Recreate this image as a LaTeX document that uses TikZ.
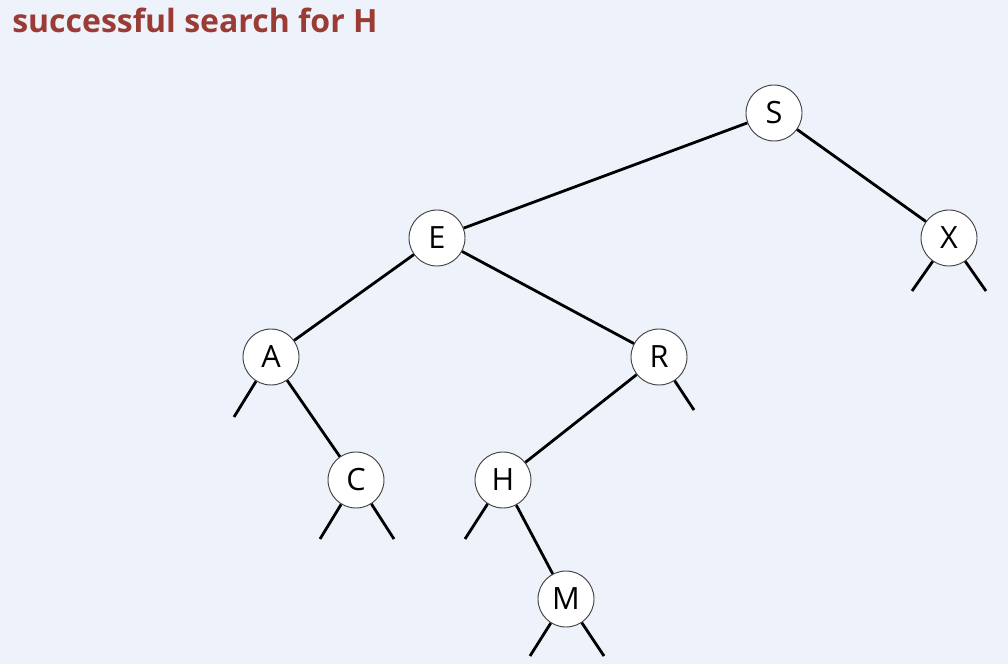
\documentclass[tikz,border=0pt]{standalone}
\usepackage{fontspec}
\setmainfont{Open Sans}
\begin{document}
\begin{tikzpicture}[x=0.75pt,y=-0.75pt,
  bstnode/.style={circle,draw=black!75,line width=0.7pt,fill=white,minimum size=42pt,inner sep=0pt,font=\fontsize{23}{27}\selectfont},
  link/.style={line width=2.1pt,black},
  nulllink/.style={line width=2.1pt,black}]
  \definecolor{bgblue}{HTML}{EEF3FB}
  \definecolor{titlered}{HTML}{9B3B35}
  \fill[bgblue] (0,0) rectangle (1008,664);
  \useasboundingbox (0,0) rectangle (1008,664);

  \node[anchor=base west,inner sep=0pt,text=titlered,font=\fontsize{24}{28}\selectfont\bfseries] (title) at (12,32) {successful search for H};

  % keys of the tree
  \node[bstnode] (S) at (774,113) {S};
  \node[bstnode] (E) at (437,238) {E};
  \node[bstnode] (X) at (949,238) {X};
  \node[bstnode] (A) at (271,357) {A};
  \node[bstnode] (R) at (659,357) {R};
  \node[bstnode] (C) at (356,480) {C};
  \node[bstnode] (H) at (503,480) {H};
  \node[bstnode] (M) at (566,599) {M};

  % ends of the null links
  \coordinate (Xl) at (912,291);
  \coordinate (Xr) at (986,291);
  \coordinate (Al) at (234,417);
  \coordinate (Rr) at (694,410);
  \coordinate (Cl) at (320,539);
  \coordinate (Cr) at (394,539);
  \coordinate (Hl) at (465,539);
  \coordinate (Ml) at (530,656);
  \coordinate (Mr) at (604,656);

  % links between keys
  \draw[link] (S) -- (E);
  \draw[link] (S) -- (X);
  \draw[link] (E) -- (A);
  \draw[link] (E) -- (R);
  \draw[link] (A) -- (C);
  \draw[link] (R) -- (H);
  \draw[link] (H) -- (M);

  % null links
  \draw[nulllink] (X) -- (Xl);
  \draw[nulllink] (X) -- (Xr);
  \draw[nulllink] (A) -- (Al);
  \draw[nulllink] (R) -- (Rr);
  \draw[nulllink] (C) -- (Cl);
  \draw[nulllink] (C) -- (Cr);
  \draw[nulllink] (H) -- (Hl);
  \draw[nulllink] (M) -- (Ml);
  \draw[nulllink] (M) -- (Mr);
\end{tikzpicture}
\end{document}
